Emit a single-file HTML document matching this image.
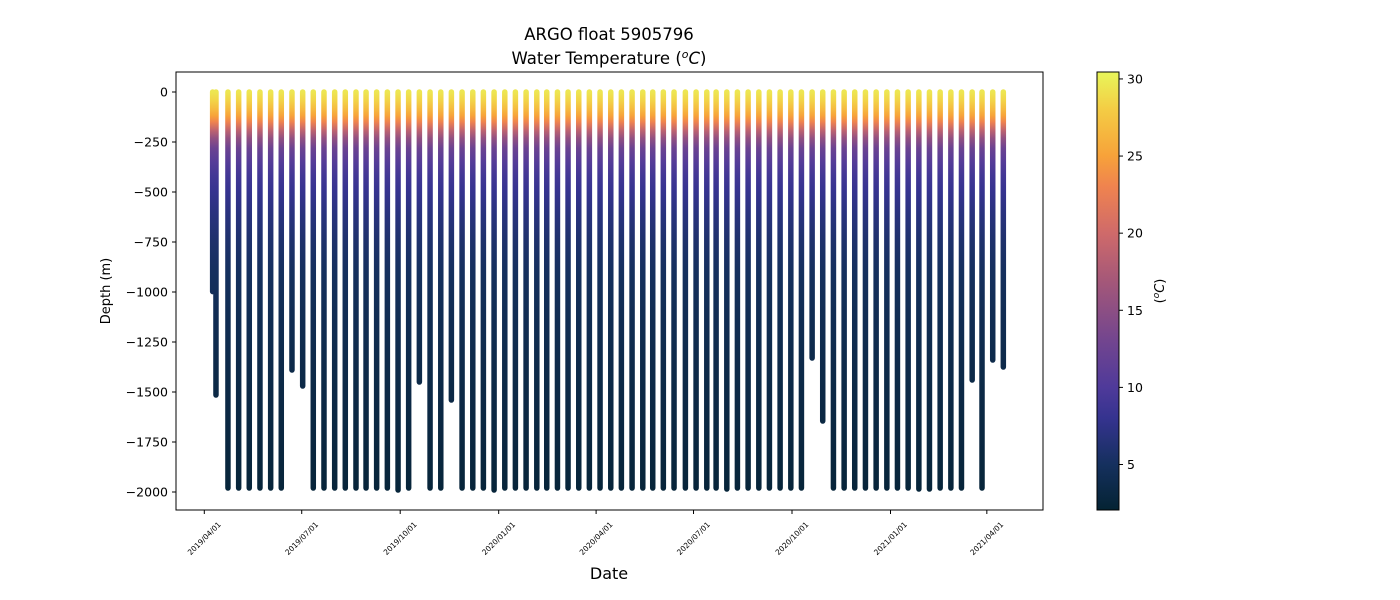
<!DOCTYPE html>
<html><head><meta charset="utf-8"><style>
body{margin:0;background:#fff;}
svg{display:block;font-family:"DejaVu Sans","Liberation Sans",sans-serif;}
</style></head><body>
<svg id="chart" width="1400" height="600" viewBox="0 0 1400 600">
<defs id="defs"></defs>
<text x="609" y="40" font-size="16.5" text-anchor="middle">ARGO float 5905796</text>
<text x="609" y="64" font-size="16.5" text-anchor="middle">Water Temperature (<tspan font-style="italic" font-size="11" dy="-6">o</tspan><tspan font-style="italic" dy="6">C</tspan>)</text>
<g id="plot"></g>
<rect x="176" y="72" width="867" height="438" fill="none" stroke="#000" stroke-width="1"/>
<g id="yaxis"></g>
<g id="xaxis"></g>
<text x="110" y="291" font-size="13" text-anchor="middle" transform="rotate(-90 110 291)">Depth (m)</text>
<text x="609" y="579" font-size="16" text-anchor="middle">Date</text>
<g id="cbar"></g>
<text x="1164" y="291" font-size="13" text-anchor="middle" transform="rotate(-90 1164 291)">(<tspan font-style="italic" font-size="9" dy="-5">o</tspan><tspan font-style="italic" dy="5">C</tspan>)</text>
</svg>
<script>
// profile data: days since 2019-04-01, max depth (m)
const profileDays = [7.8,10.9,22.1,32.1,42.0,52.0,62.0,71.9,81.9,91.9,101.8,111.8,121.8,131.7,141.7,151.1,161.0,171.0,181.0,190.9,200.9,210.9,220.9,230.8,240.8,250.8,260.7,270.7,280.7,290.6,300.6,310.6,319.9,329.9,339.8,349.8,359.7,369.7,379.7,389.6,399.6,409.6,418.9,428.8,438.8,449.4,459.4,469.4,478.1,488.1,498.0,508.0,518.0,527.9,537.9,547.9,557.8,567.8,577.7,587.7,597.7,607.6,617.6,627.6,637.6,647.5,657.5,667.5,677.4,687.4,697.4,707.3,717.3,726.5,736.5,746.4];
const profileDepths = [-998,-1515,-1980,-1980,-1980,-1980,-1980,-1980,-1390,-1470,-1980,-1980,-1980,-1980,-1980,-1980,-1980,-1980,-1990,-1980,-1450,-1980,-1980,-1540,-1980,-1980,-1980,-1990,-1980,-1980,-1980,-1980,-1980,-1980,-1980,-1980,-1980,-1980,-1980,-1980,-1980,-1980,-1980,-1980,-1980,-1980,-1980,-1980,-1980,-1985,-1980,-1980,-1980,-1980,-1980,-1980,-1980,-1330,-1645,-1980,-1980,-1980,-1980,-1980,-1980,-1980,-1980,-1985,-1985,-1980,-1980,-1980,-1440,-1980,-1340,-1375];
// typical temperature profile
const tempDepths = [0,-40,-80,-120,-150,-190,-230,-280,-350,-420,-500,-600,-750,-900,-1100,-1400,-1700,-2000];
const tempValues = [29.5,28.5,27,25,23,19,15.5,12.5,10.5,9,8,7,5.8,5,4.3,3.5,3,2.5];
const yTicks = [0,-250,-500,-750,-1000,-1250,-1500,-1750,-2000];
const xTickDays = [0,91,183,275,366,457,549,641,731];
const xTickLabels = ["2019/04/01","2019/07/01","2019/10/01","2020/01/01","2020/04/01","2020/07/01","2020/10/01","2021/01/01","2021/04/01"];
const cbarTicks = [5,10,15,20,25,30];

const cmapT = [2,5,8,10,13,17,20,23,25,28,30.45];
const cmapC = ["#042333","#15305e","#35338f","#4f3a9a","#72458f","#a65878","#cf6a6a","#ef834f","#f7a23a","#f4cc44","#e8f65a"];

const NS="http://www.w3.org/2000/svg";
const y = d => 92 + (-d)*0.2;
const x = day => 204.3 + day*1.0705;
const cy = t => 510 - (t-2.05)*(438/(30.45-2.05));
function hex2rgb(h){return [1,3,5].map(i=>parseInt(h.substr(i,2),16));}
function color(t){
  if(t<=cmapT[0])return cmapC[0];
  for(let i=1;i<cmapT.length;i++){
    if(t<=cmapT[i]){const f=(t-cmapT[i-1])/(cmapT[i]-cmapT[i-1]);
      const a=hex2rgb(cmapC[i-1]),b=hex2rgb(cmapC[i]);
      return "rgb("+a.map((v,k)=>Math.round(v+(b[k]-v)*f)).join(",")+")";}
  }
  return cmapC[cmapC.length-1];
}
function mk(tag,attrs,parent){const e=document.createElementNS(NS,tag);for(const k in attrs)e.setAttribute(k,attrs[k]);parent.appendChild(e);return e;}
const defs=document.getElementById('defs');
const g=mk('linearGradient',{id:'tgrad',gradientUnits:'userSpaceOnUse',x1:0,y1:y(0),x2:0,y2:y(-2000)},defs);
tempDepths.forEach((d,i)=>{mk('stop',{offset:(-d/2000),'stop-color':color(tempValues[i])},g);});
const cg=mk('linearGradient',{id:'cgrad',x1:0,y1:1,x2:0,y2:0},defs);
cmapT.forEach((t,i)=>{mk('stop',{offset:Math.max(0,(t-2.05)/(30.45-2.05)),'stop-color':cmapC[i]},cg);});

const plot=document.getElementById('plot');
profileDays.forEach((day,i)=>{
  const l=mk('line',{x1:x(day),x2:x(day)+0.001,y1:y(0),y2:y(profileDepths[i]),stroke:'url(#tgrad)','stroke-width':5.5,'stroke-linecap':'round'},plot);
  
  
});
const ya=document.getElementById('yaxis');
yTicks.forEach(v=>{
  const t=mk('line',{x1:172,x2:176,y1:y(v),y2:y(v),stroke:'#000'},ya);
  
  
  const tx=mk('text',{x:168,y:y(v)+4.5,'font-size':12.5,'text-anchor':'end'},ya);
  tx.textContent=String(v).replace('-','\u2212');
  
  
});
const xa=document.getElementById('xaxis');
xTickDays.forEach((d,i)=>{
  const t=mk('line',{x1:x(d),x2:x(d),y1:510,y2:514,stroke:'#000'},xa);
  
  
  const px=x(d), py=541;
  const tx=mk('text',{x:px,y:py,'font-size':7.5,'text-anchor':'middle',transform:`rotate(-45 ${px} ${py-2.5})`},xa);
  tx.textContent=xTickLabels[i];
  
  
});
const cb=document.getElementById('cbar');
const cr=mk('rect',{x:1097,y:72,width:22,height:438,fill:'url(#cgrad)',stroke:'#000','stroke-width':1},cb);


cbarTicks.forEach(v=>{
  const t=mk('line',{x1:1119,x2:1123,y1:cy(v),y2:cy(v),stroke:'#000'},cb);
  
  
  const tx=mk('text',{x:1127,y:cy(v)+4.5,'font-size':12.5},cb);
  tx.textContent=v;
  
  
});
</script>
</body></html>
